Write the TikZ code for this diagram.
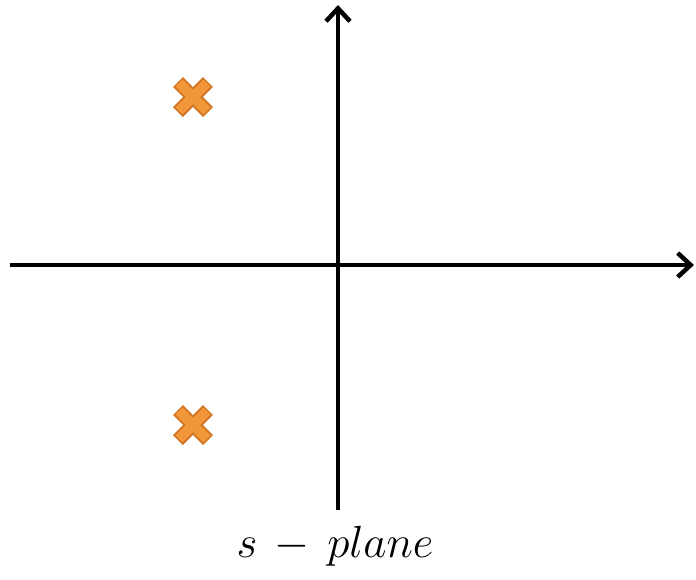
\RequirePackage{fix-cm}
\documentclass[tikz,border=0pt]{standalone}
\usetikzlibrary{arrows.meta,calc}
\definecolor{xfill}{HTML}{F2963A}
\definecolor{xedge}{HTML}{D0731F}
\tikzset{
  axis/.style={line width=4.5pt, -{Straight Barb[length=13pt,width=24pt,line width=4.5pt]}},
  xline/.style={line width=14pt, xedge, line cap=butt},
  xinner/.style={line width=10pt, xfill, line cap=butt, shorten >=1.5pt, shorten <=1.5pt},
}
\newcommand{\polemark}[1]{%
  \draw[xline] ($(#1)+(-15,-15)$) -- ($(#1)+(15,15)$);
  \draw[xline] ($(#1)+(-15,15)$) -- ($(#1)+(15,-15)$);
  \draw[xinner] ($(#1)+(-15,-15)$) -- ($(#1)+(15,15)$);
  \draw[xinner] ($(#1)+(-15,15)$) -- ($(#1)+(15,-15)$);
}
\begin{document}
\begin{tikzpicture}[x=1pt,y=-1pt]
\useasboundingbox (0,0) rectangle (696,579);
\coordinate (hl) at (10,265);
\coordinate (hr) at (694,265);
\coordinate (vb) at (338,510);
\coordinate (vt) at (338,5);
\coordinate (p1) at (193,97);
\coordinate (p2) at (193,425);
\draw[axis] (hl) -- (hr);
\draw[axis] (vb) -- (vt);
\polemark{p1}
\polemark{p2}
\node[font=\fontsize{45}{50}\selectfont, anchor=base, inner sep=0pt] (lbl) at (335,557) {$s\,-\,plane$};
\end{tikzpicture}
\end{document}
